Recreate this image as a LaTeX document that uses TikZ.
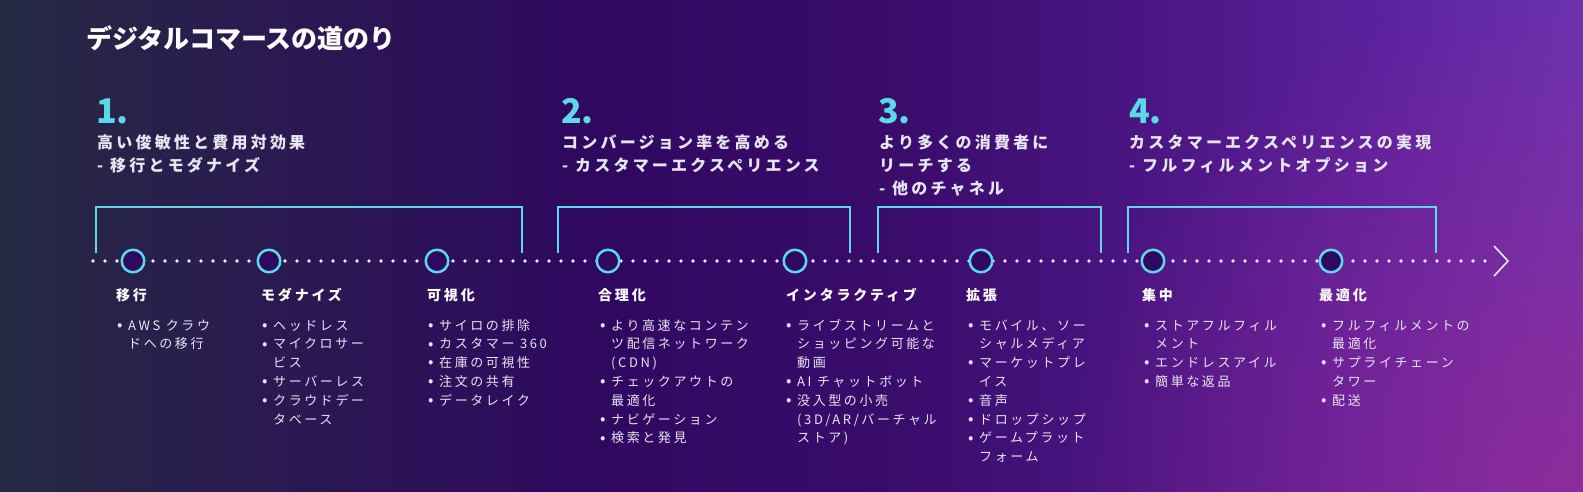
\documentclass[tikz,border=0pt]{standalone}
\usepackage{fontspec}
\setmainfont{Noto Sans CJK JP}
\newfontfamily\jpt{Noto Sans CJK JP}
\newfontfamily\jp[LetterSpace=20]{Noto Sans CJK JP}
\usetikzlibrary{fadings}
\definecolor{cy}{HTML}{5DD8E8}
\definecolor{txt}{HTML}{E6E6F0}
\definecolor{cfill}{HTML}{2F0862}
\definecolor{dotc}{HTML}{ECECF4}
\definecolor{mag}{HTML}{A02A92}
\definecolor{bga}{HTML}{252944}
\definecolor{bgb}{HTML}{2B1852}
\definecolor{bgc}{HTML}{2F0860}
\definecolor{bgd}{HTML}{3A0C6C}
\definecolor{bge}{HTML}{4F1889}
\definecolor{bgf}{HTML}{5C22A0}
\definecolor{bgg}{HTML}{6A33B0}
\pgfdeclarehorizontalshading{bgsh}{100bp}{color(0bp)=(bga); color(25bp)=(bga); color(34.5bp)=(bgb); color(44bp)=(bgc); color(53.5bp)=(bgd); color(63bp)=(bge); color(69bp)=(bgf); color(75bp)=(bgg); color(100bp)=(bgg)}
\tikzfading[name=radfade, inner color=transparent!0, outer color=transparent!100]
\newcommand\bu{\makebox[11pt][l]{\fontsize{16}{16}\selectfont\raisebox{-0.3pt}{\textbullet}}}
\newcommand\bc{\hspace*{11pt}}
\begin{document}
\begin{tikzpicture}[x=1pt,y=1pt,
  ttl/.style={font=\jpt\bfseries\fontsize{26}{30}\selectfont, text=white, inner sep=0, anchor=base west},
  num/.style={font=\jpt\bfseries\fontsize{34}{40}\selectfont, text=cy, inner sep=0, anchor=base west},
  head/.style={font=\jp\bfseries\fontsize{16}{23}\selectfont, text=txt, inner sep=0, anchor=base west, align=left},
  lab/.style={font=\jp\bfseries\fontsize{14}{18}\selectfont, text=white, inner sep=0, anchor=base west},
  body/.style={font=\jp\fontsize{13}{18.8}\selectfont, text=txt, inner sep=0, anchor=base west, align=left},
  stopc/.style={circle, draw=cy, line width=2.5pt, fill=cfill, minimum size=22.5pt, inner sep=0},
  brk/.style={draw=cy, line width=2pt},
  dots/.style={draw=dotc, line width=3.6pt, line cap=round, dash pattern=on 0pt off 12pt},
]
\useasboundingbox (0,0) rectangle (1583,-491);
\shade[shading=bgsh] (0,0) rectangle (1583,-491);
\begin{scope}
\clip (0,0) rectangle (1583,-491);
\fill[color=mag, fill opacity=0.65, path fading=radfade] (1583,-491) circle (520);
\end{scope}

% title
\node[ttl] (title) at (86,-48) {デジタルコマースの道のり};

% numbers
\node[num] (n1) at (96,-123) {1.};
\node[num] (n2) at (561,-123) {2.};
\node[num] (n3) at (878,-123) {3.};
\node[num] (n4) at (1129,-123) {4.};

% headlines (anchor = baseline of the last line)
\node[head] (h1) at (97,{-148-23}) {高い俊敏性と費用対効果\\- 移行とモダナイズ};
\node[head] (h2) at (562,{-148-23}) {コンバージョン率を高める\\- カスタマーエクスペリエンス};
\node[head] (h3) at (879,{-148-46}) {より多くの消費者に\\リーチする\\- 他のチャネル};
\node[head] (h4) at (1129,{-148-23}) {カスタマーエクスペリエンスの実現\\- フルフィルメントオプション};

% brackets
\draw[brk] (96,-253) -- (96,-207) -- (522,-207) -- (522,-253);
\draw[brk] (558,-253) -- (558,-207) -- (850,-207) -- (850,-253);
\draw[brk] (878,-253) -- (878,-207) -- (1101,-207) -- (1101,-253);
\draw[brk] (1128,-253) -- (1128,-207) -- (1436,-207) -- (1436,-253);

% timeline
\coordinate (ts) at (93,-261);
\coordinate (te) at (1496,-261);
\coordinate (tip) at (1508,-261);
\draw[dots] (ts) -- (te);
\draw[dotc, line width=1.6pt] ([xshift=-14pt,yshift=15pt]tip) -- (tip) -- ([xshift=-14pt,yshift=-15pt]tip);

\node[stopc] (c1) at (133,-261) {};
\node[stopc] (c2) at (269,-261) {};
\node[stopc] (c3) at (437,-261) {};
\node[stopc] (c4) at (608,-261) {};
\node[stopc] (c5) at (795,-261) {};
\node[stopc] (c6) at (981,-261) {};
\node[stopc] (c7) at (1153,-261) {};
\node[stopc] (c8) at (1331,-261) {};

% labels
\node[lab] (l1) at (116,-300) {移行};
\node[lab] (l2) at (261,-300) {モダナイズ};
\node[lab] (l3) at (427,-300) {可視化};
\node[lab] (l4) at (598,-300) {合理化};
\node[lab] (l5) at (786,-300) {インタラクティブ};
\node[lab] (l6) at (966,-300) {拡張};
\node[lab] (l7) at (1142,-300) {集中};
\node[lab] (l8) at (1319,-300) {最適化};

% bullet lists (anchor = baseline of the last line)
\node[body] (b1) at (117,{-330-1*18.8}) {\bu AWS クラウ\\\bc ドへの移行};
\node[body] (b2) at (262,{-330-5*18.8}) {\bu ヘッドレス\\\bu マイクロサー\\\bc ビス\\\bu サーバーレス\\\bu クラウドデー\\\bc タベース};
\node[body] (b3) at (428,{-330-4*18.8}) {\bu サイロの排除\\\bu カスタマー 360\\\bu 在庫の可視性\\\bu 注文の共有\\\bu データレイク};
\node[body] (b4) at (600,{-330-6*18.8}) {\bu より高速なコンテン\\\bc ツ配信ネットワーク\\\bc (CDN)\\\bu チェックアウトの\\\bc 最適化\\\bu ナビゲーション\\\bu 検索と発見};
\node[body] (b5) at (786,{-330-6*18.8}) {\bu ライブストリームと\\\bc ショッピング可能な\\\bc 動画\\\bu AI チャットボット\\\bu 没入型の小売\\\bc (3D/AR/バーチャル\\\bc ストア)};
\node[body] (b6) at (968,{-330-7*18.8}) {\bu モバイル、ソー\\\bc シャルメディア\\\bu マーケットプレ\\\bc イス\\\bu 音声\\\bu ドロップシップ\\\bu ゲームプラット\\\bc フォーム};
\node[body] (b7) at (1144,{-330-3*18.8}) {\bu ストアフルフィル\\\bc メント\\\bu エンドレスアイル\\\bu 簡単な返品};
\node[body] (b8) at (1321,{-330-4*18.8}) {\bu フルフィルメントの\\\bc 最適化\\\bu サプライチェーン\\\bc タワー\\\bu 配送};
\end{tikzpicture}
\end{document}
